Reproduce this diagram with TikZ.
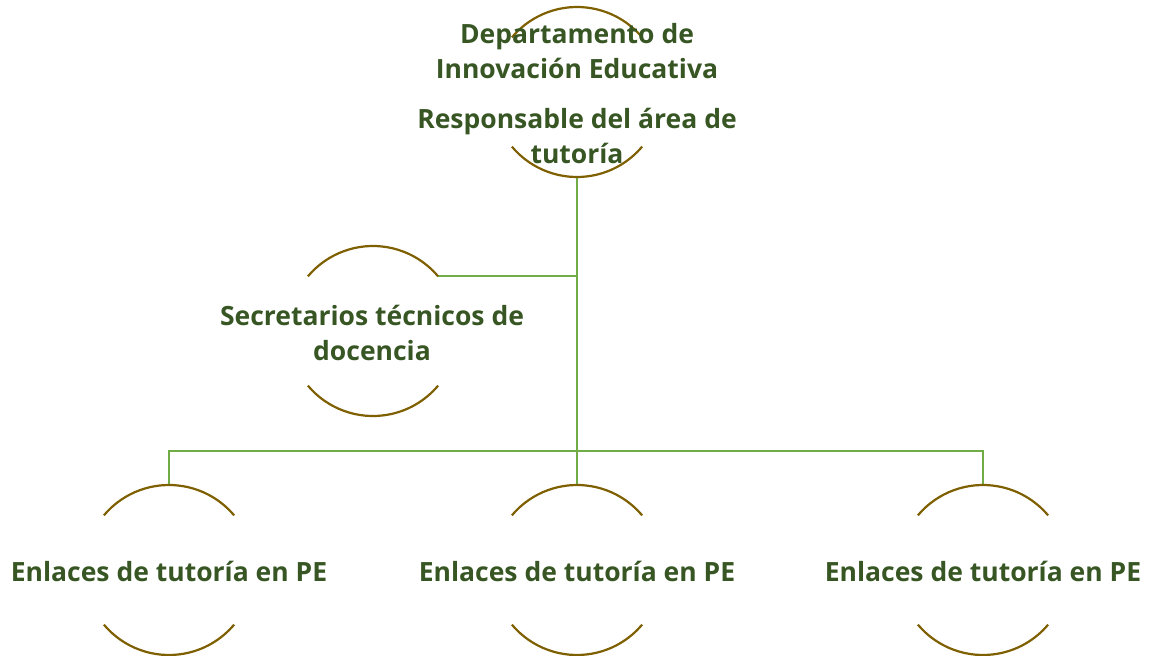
\documentclass[tikz,border=0pt]{standalone}
\usepackage{fontspec}
\setmainfont{Open Sans}
\definecolor{txtgreen}{HTML}{375623}
\definecolor{linegreen}{HTML}{70AD47}
\definecolor{arcbrown}{HTML}{7F6000}
\begin{document}
\begin{tikzpicture}[x=1bp,y=-1bp,
  ring/.style={circle,minimum size=170bp,inner sep=0,outer sep=0,draw=none},
  lbl/.style={text=txtgreen,font=\bfseries\fontsize{26.6}{35}\selectfont,align=center,inner sep=0},
  arcline/.style={draw=arcbrown,line width=2.2bp},
  conn/.style={draw=linegreen,line width=2bp}]
\useasboundingbox (0,0) rectangle (1152,656);
% circles
\node[ring] (top) at (577,92) {};
\node[ring] (sec) at (373,331) {};
\node[ring] (left) at (169,570) {};
\node[ring] (mid) at (577,570) {};
\node[ring] (right) at (983,570) {};
\coordinate (bus) at (577,451);
% connectors
\draw[conn] (top.south) -- (mid.north);
\draw[conn] (sec.40) -- (sec.40 -| top.south);
\draw[conn] (left.north) |- (bus) -| (right.north);
% arcs
\foreach \c in {top,sec,left,mid,right}{
  \draw[arcline] (\c.140) arc[start angle=140,end angle=40,radius=85bp];
  \draw[arcline] (\c.220) arc[start angle=220,end angle=320,radius=85bp];
}
% texts
\node[lbl] (t1) at (577,51) {Departamento de\\Innovación Educativa};
\node[lbl] (t2) at (577,136) {Responsable del área de\\tutoría};
\node[lbl] (t3) at (372,333) {Secretarios técnicos de\\docencia};
\node[lbl] (t4) at (169,571) {Enlaces de tutoría en PE};
\node[lbl] (t5) at (577,571) {Enlaces de tutoría en PE};
\node[lbl] (t6) at (983,571) {Enlaces de tutoría en PE};
\end{tikzpicture}
\end{document}
